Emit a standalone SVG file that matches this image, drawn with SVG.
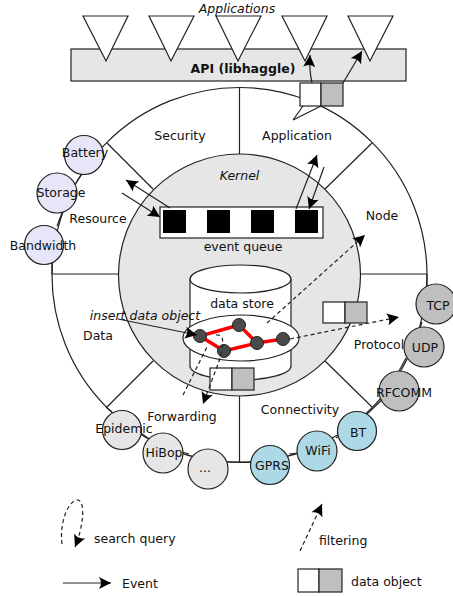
<svg xmlns="http://www.w3.org/2000/svg" width="453" height="597" viewBox="0 0 453 597">
<defs>
<style>
text{font-family:"DejaVu Sans","Liberation Sans",sans-serif;font-size:12.5px;fill:#111}
.m{text-anchor:middle}
.it{font-style:italic}
.ln{stroke:#222;stroke-width:1.2;fill:none}
.ds{stroke:#222;stroke-width:1.2;fill:none;stroke-dasharray:4,3}
.c{stroke:#222;stroke-width:1.2}
.res{fill:#e6e6f8}
.fwd{fill:#e6e6e6}
.con{fill:#add8e6}
.pro{fill:#bfbfbf}
.w{fill:#fff;stroke:#222;stroke-width:1.2}
.g{fill:#bfbfbf;stroke:#222;stroke-width:1.2}
.nd{fill:#4a4a4a;stroke:#222;stroke-width:1}
.red{stroke:#ff0000;stroke-width:3.5;fill:none}
.q{fill:#000}
</style>
<marker id="ah" markerUnits="userSpaceOnUse" viewBox="-12 -7 16 14" refX="2" refY="0" markerWidth="16" markerHeight="14" orient="auto">
<path d="M2,0 L-10,-6 Q-6,0 -10,6 Z" fill="#000"/>
</marker>
</defs>

<g id="applications">
<text class="m it" x="237" y="13">Applications</text>
<rect x="71" y="49" width="335" height="32" fill="#e6e6e6" stroke="#222" stroke-width="1.2"/>
<g fill="#fff" stroke="#222" stroke-width="1.2">
<polygon points="83,16 128,16 106,61"/>
<polygon points="149,16 194,16 171,61"/>
<polygon points="216,16 261,16 238,61"/>
<polygon points="282,16 327,16 305,61"/>
<polygon points="348,16 393,16 370,61"/>
</g>
<text class="m" x="243" y="73" style="font-weight:bold">API (libhaggle)</text>
</g>

<g id="outer">
<circle cx="239.5" cy="275" r="187.5" fill="#fff" stroke="#222" stroke-width="1.2"/>
<line class="ln" x1="239.5" y1="88" x2="239.5" y2="155"/>
<line class="ln" x1="52" y1="274" x2="118" y2="274"/>
<line class="ln" x1="360" y1="274" x2="427" y2="274"/>
<line class="ln" x1="107" y1="143" x2="153" y2="189"/>
<line class="ln" x1="372" y1="143" x2="325" y2="189"/>
<line class="ln" x1="107" y1="407" x2="153" y2="361"/>
<line class="ln" x1="325" y1="361" x2="372" y2="407"/>
<line class="ln" x1="239.5" y1="390" x2="239.5" y2="462"/>
<text class="m" x="180" y="140">Security</text>
<text class="m" x="297" y="140">Application</text>
<text class="m" x="382" y="220">Node</text>
<text class="m" x="98" y="223">Resource</text>
<text class="m" x="98" y="340">Data</text>
<text class="m" x="182" y="421">Forwarding</text>
<text class="m" x="300" y="414">Connectivity</text>
<text class="m" x="379" y="349">Protocol</text>
</g>

<g id="kernel">
<circle cx="239.5" cy="275" r="121" fill="#e6e6e6" stroke="#222" stroke-width="1.2"/>
<text class="m it" x="239.5" y="180">Kernel</text>
</g>

<g id="event-queue">
<rect x="160" y="207" width="163" height="31" fill="#fff" stroke="#222" stroke-width="1.2"/>
<rect class="q" x="163" y="210" width="23" height="23"/>
<rect class="q" x="207" y="210" width="23" height="23"/>
<rect class="q" x="251" y="210" width="23" height="23"/>
<rect class="q" x="295" y="210" width="23" height="23"/>
<text class="m" x="243" y="251">event queue</text>
</g>

<g id="data-store">
<path d="M190,279 L190,366 A50.5,14 0 0 0 291,366 L291,279" fill="#fff" stroke="#222" stroke-width="1.2"/>
<ellipse cx="240.5" cy="279" rx="50.5" ry="14" fill="#fff" stroke="#222" stroke-width="1.2"/>
<text class="m" x="242" y="308">data store</text>
<ellipse cx="241" cy="338" rx="58" ry="23" fill="#fff" stroke="#222" stroke-width="1.2"/>
<polyline class="red" points="224,351 200,336 239,325 257,343 283,339"/>
<line class="red" x1="224" y1="351" x2="257" y2="343"/>
<circle class="nd" cx="200" cy="336" r="6.5"/>
<circle class="nd" cx="239" cy="325" r="6.5"/>
<circle class="nd" cx="224" cy="351" r="6.5"/>
<circle class="nd" cx="257" cy="343" r="6.5"/>
<circle class="nd" cx="283" cy="339" r="6.5"/>
</g>

<g id="data-object-store">
<rect class="w" x="210" y="368" width="22" height="22"/>
<rect class="g" x="232" y="368" width="22" height="22"/>
</g>

<g id="data-object-top">
<rect class="w" x="300" y="83" width="21" height="23"/>
<rect class="g" x="321" y="83" width="22" height="23"/>
<polyline class="ln" points="303,106 293,120 321,106"/>
</g>

<g id="data-object-protocol">
<rect class="w" x="323" y="302" width="22" height="21"/>
<rect class="g" x="345" y="302" width="22" height="21"/>
</g>

<g id="resource-modules">
<line class="ln" x1="82" y1="174" x2="76" y2="183"/>
<line class="ln" x1="62" y1="213" x2="57" y2="226"/>
<line class="ln" x1="52" y1="263" x2="52" y2="274"/>
<g id="battery"><circle class="c res" cx="84" cy="155" r="19.5"/><text class="m" x="85" y="157">Battery</text></g>
<g id="storage"><circle class="c res" cx="57" cy="193" r="20"/><text class="m" x="61" y="197">Storage</text></g>
<g id="bandwidth"><circle class="c res" cx="44" cy="245" r="19.5"/><text class="m" x="43" y="250">Bandwidth</text></g>
</g>

<g id="forwarding-modules">
<line class="ln" x1="106" y1="407" x2="112" y2="412"/>
<line class="ln" x1="141" y1="433" x2="149" y2="439"/>
<line class="ln" x1="182" y1="452" x2="189" y2="454"/>
<line class="ln" x1="227" y1="462" x2="252" y2="462"/>
<g id="epidemic"><circle class="c fwd" cx="122" cy="430" r="19.5"/><text class="m" x="124" y="433">Epidemic</text></g>
<g id="hibop"><circle class="c fwd" cx="163" cy="453" r="20"/><text class="m" x="164" y="457">HiBop</text></g>
<g id="more"><circle class="c fwd" cx="208" cy="469" r="20"/><text class="m" x="205" y="472">...</text></g>
</g>

<g id="connectivity-modules">
<line class="ln" x1="289" y1="454" x2="298" y2="453"/>
<line class="ln" x1="336" y1="438" x2="340" y2="435"/>
<line class="ln" x1="367" y1="414" x2="384" y2="398"/>
<g id="gprs"><circle class="c con" cx="270" cy="465" r="19.5"/><text class="m" x="272" y="470">GPRS</text></g>
<g id="wifi"><circle class="c con" cx="317" cy="451" r="20"/><text class="m" x="318" y="455">WiFi</text></g>
<g id="bt"><circle class="c con" cx="357" cy="431" r="19.5"/><text class="m" x="358" y="437">BT</text></g>
</g>

<g id="protocol-modules">
<line class="ln" x1="399" y1="371" x2="406" y2="358"/>
<line class="ln" x1="420" y1="328" x2="422" y2="322"/>
<line class="ln" x1="427" y1="274" x2="427" y2="286"/>
<g id="rfcomm"><circle class="c pro" cx="399" cy="391" r="20"/><text class="m" x="404" y="397">RFCOMM</text></g>
<g id="udp"><circle class="c pro" cx="424" cy="347" r="20"/><text class="m" x="425" y="352">UDP</text></g>
<g id="tcp"><circle class="c pro" cx="436" cy="304" r="20"/><text class="m" x="438" y="310">TCP</text></g>
</g>

<g id="insert-label">
<text class="m it" x="145" y="320">insert data object</text>
</g>

<g id="connectors">
<path class="ln" d="M312,83 Q309,70 310,55" marker-end="url(#ah)"/>
<line class="ln" x1="343" y1="83" x2="362" y2="51" marker-end="url(#ah)"/>
<line class="ln" x1="170" y1="208" x2="126" y2="180" marker-end="url(#ah)"/>
<line class="ln" x1="122" y1="193" x2="160" y2="217" marker-end="url(#ah)"/>
<line class="ln" x1="296" y1="209" x2="317" y2="155" marker-end="url(#ah)"/>
<line class="ln" x1="324" y1="167" x2="309" y2="209" marker-end="url(#ah)"/>
<line class="ln" x1="118" y1="319" x2="197" y2="335" marker-end="url(#ah)"/>
<line class="ds" x1="267" y1="323" x2="365" y2="235" marker-end="url(#ah)"/>
<line class="ds" x1="290" y1="339" x2="399" y2="317" marker-end="url(#ah)"/>
<path class="ds" d="M216,335 C228,333 222,355 215,372 L203,404" marker-end="url(#ah)"/>
<line class="ds" x1="183" y1="395" x2="208" y2="345"/>
</g>

<g id="legend">
<path class="ds" d="M62,544 C59,520 70,499 78,500 C86,502 83,528 75,547" marker-end="url(#ah)"/>
<text x="94" y="543">search query</text>
<line class="ds" x1="300" y1="551" x2="322" y2="504" marker-end="url(#ah)"/>
<text x="319" y="545">filtering</text>
<line class="ln" x1="63" y1="583" x2="111" y2="583" marker-end="url(#ah)"/>
<text x="122" y="588">Event</text>
<rect class="w" x="298" y="569" width="21" height="23"/>
<rect class="g" x="319" y="569" width="23" height="23"/>
<text x="351" y="586">data object</text>
</g>
</svg>
